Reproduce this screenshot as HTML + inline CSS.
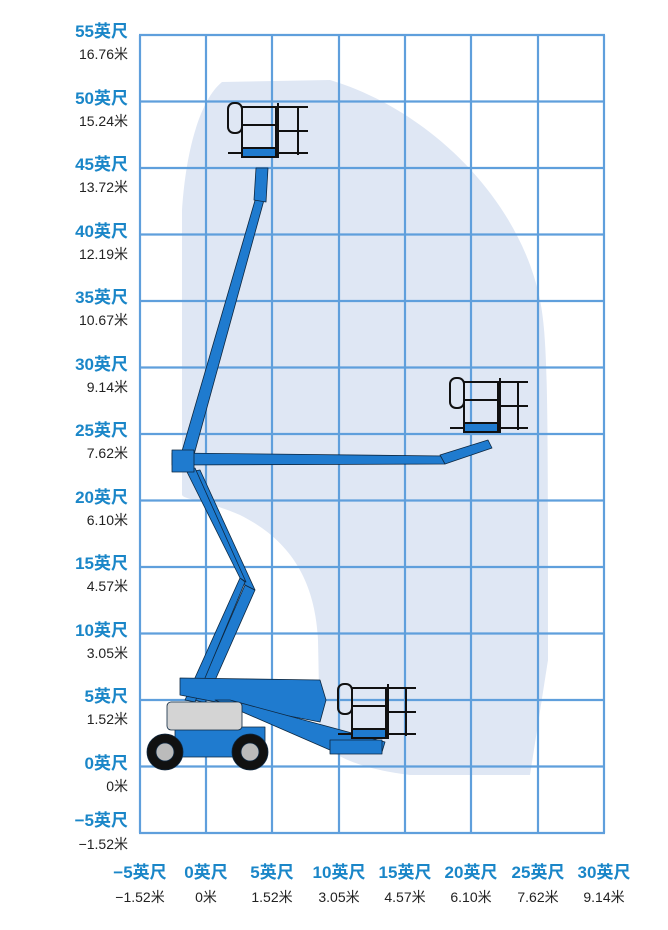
<!DOCTYPE html>
<html><head><meta charset="utf-8"><style>
body{margin:0;background:#fff;}
svg{display:block}
.ft{font-family:"Liberation Sans","Noto Sans CJK SC",sans-serif;font-weight:bold;font-size:17px;fill:#1a86c8}
.m{font-family:"Liberation Sans","Noto Sans CJK SC",sans-serif;font-size:14px;fill:#222}
</style></head><body>
<svg width="668" height="930" viewBox="0 0 668 930" xmlns="http://www.w3.org/2000/svg">
<path d="M182,210 C186,150 200,100 222,82 L330,80 C430,110 520,200 540,300 C548,340 548,400 548,660 L530,775 L410,775 C370,770 335,760 320,740 L318,640 C315,580 290,540 240,515 C205,500 185,500 182,495 Z" fill="#dfe7f4"/>
<g stroke="#5f9fdc" stroke-width="2.2" fill="none">
<path d="M140,35V833M206,35V833M272,35V833M339,35V833M405,35V833M471,35V833M538,35V833M604,35V833"/>
<path d="M139,35H605M139,101.5H605M139,168H605M139,234.5H605M139,301H605M139,367.5H605M139,434H605M139,500.5H605M139,567H605M139,633.5H605M139,700H605M139,766.5H605M139,833H605"/>
</g>
<g text-anchor="end">
<text x="128" y="37" class="ft">55英尺</text><text x="128" y="59" class="m">16.76米</text>
<text x="128" y="104" class="ft">50英尺</text><text x="128" y="126" class="m">15.24米</text>
<text x="128" y="170" class="ft">45英尺</text><text x="128" y="192" class="m">13.72米</text>
<text x="128" y="237" class="ft">40英尺</text><text x="128" y="259" class="m">12.19米</text>
<text x="128" y="303" class="ft">35英尺</text><text x="128" y="325" class="m">10.67米</text>
<text x="128" y="370" class="ft">30英尺</text><text x="128" y="392" class="m">9.14米</text>
<text x="128" y="436" class="ft">25英尺</text><text x="128" y="458" class="m">7.62米</text>
<text x="128" y="503" class="ft">20英尺</text><text x="128" y="525" class="m">6.10米</text>
<text x="128" y="569" class="ft">15英尺</text><text x="128" y="591" class="m">4.57米</text>
<text x="128" y="636" class="ft">10英尺</text><text x="128" y="658" class="m">3.05米</text>
<text x="128" y="702" class="ft">5英尺</text><text x="128" y="724" class="m">1.52米</text>
<text x="128" y="769" class="ft">0英尺</text><text x="128" y="791" class="m">0米</text>
<text x="128" y="826" class="ft">−5英尺</text><text x="128" y="849" class="m">−1.52米</text>
</g>
<g text-anchor="middle">
<text x="140" y="878" class="ft">−5英尺</text><text x="140" y="902" class="m">−1.52米</text>
<text x="206" y="878" class="ft">0英尺</text><text x="206" y="902" class="m">0米</text>
<text x="272" y="878" class="ft">5英尺</text><text x="272" y="902" class="m">1.52米</text>
<text x="339" y="878" class="ft">10英尺</text><text x="339" y="902" class="m">3.05米</text>
<text x="405" y="878" class="ft">15英尺</text><text x="405" y="902" class="m">4.57米</text>
<text x="471" y="878" class="ft">20英尺</text><text x="471" y="902" class="m">6.10米</text>
<text x="538" y="878" class="ft">25英尺</text><text x="538" y="902" class="m">7.62米</text>
<text x="604" y="878" class="ft">30英尺</text><text x="604" y="902" class="m">9.14米</text>
</g>
<!-- machine -->
<g stroke="#0d2740" stroke-width="0.8" fill="#1f7bcf" stroke-linejoin="round">
<!-- riser zigzag -->
<polygon points="195,700 205,703 255,590 245,585"/>
<polygon points="245,585 255,590 200,470 188,472"/>
<polygon points="185,700 195,702 245,582 240,578"/>
<polygon points="240,578 246,582 195,468 186,470"/>
<!-- vertical main boom -->
<polygon points="180,458 192,462 264,200 256,197"/>
<polygon points="254,200 266,202 268,168 256,168"/>
<!-- horizontal boom -->
<polygon points="172,453 445,456 445,464 172,465"/>
<polygon points="440,455 488,440 492,448 445,464"/>
<rect x="172" y="450" width="22" height="22"/>
<!-- stowed lower -->
<polygon points="180,678 320,680 326,700 320,722 180,695"/>
<polygon points="215,700 230,700 385,742 382,752 330,750"/>
<rect x="330" y="740" width="52" height="14"/>
<!-- base -->
<rect x="175" y="727" width="90" height="30"/>
<circle cx="165" cy="752" r="18" fill="#111"/><circle cx="165" cy="752" r="9" fill="#bbb"/>
<circle cx="250" cy="752" r="18" fill="#111"/><circle cx="250" cy="752" r="9" fill="#bbb"/>
<rect x="167" y="702" width="75" height="28" rx="4" fill="#d4d4d4"/>
</g>
<!-- baskets -->
<g stroke="#111" stroke-width="2" fill="none">
<g transform="translate(228,103)">
<rect x="0" y="0" width="14" height="30" rx="6"/><rect x="14" y="4" width="34" height="50"/><path d="M14,22H48M50,0V55M48,4H80M48,28H80M48,50H80M70,4V52M0,50H80"/><rect x="14" y="45" width="34" height="9" fill="#1f7bcf"/>
</g>
<g transform="translate(450,378)">
<rect x="0" y="0" width="14" height="30" rx="6"/><rect x="14" y="4" width="34" height="50"/><path d="M14,22H48M50,0V55M48,4H78M48,28H78M48,50H78M68,4V52M0,50H78"/><rect x="14" y="45" width="34" height="9" fill="#1f7bcf"/>
</g>
<g transform="translate(338,684)">
<rect x="0" y="0" width="14" height="30" rx="6"/><rect x="14" y="4" width="34" height="50"/><path d="M14,22H48M50,0V55M48,4H78M48,28H78M48,50H78M68,4V52M0,50H78"/><rect x="14" y="45" width="34" height="9" fill="#1f7bcf"/>
</g>
</g>
</svg>
</body></html>
